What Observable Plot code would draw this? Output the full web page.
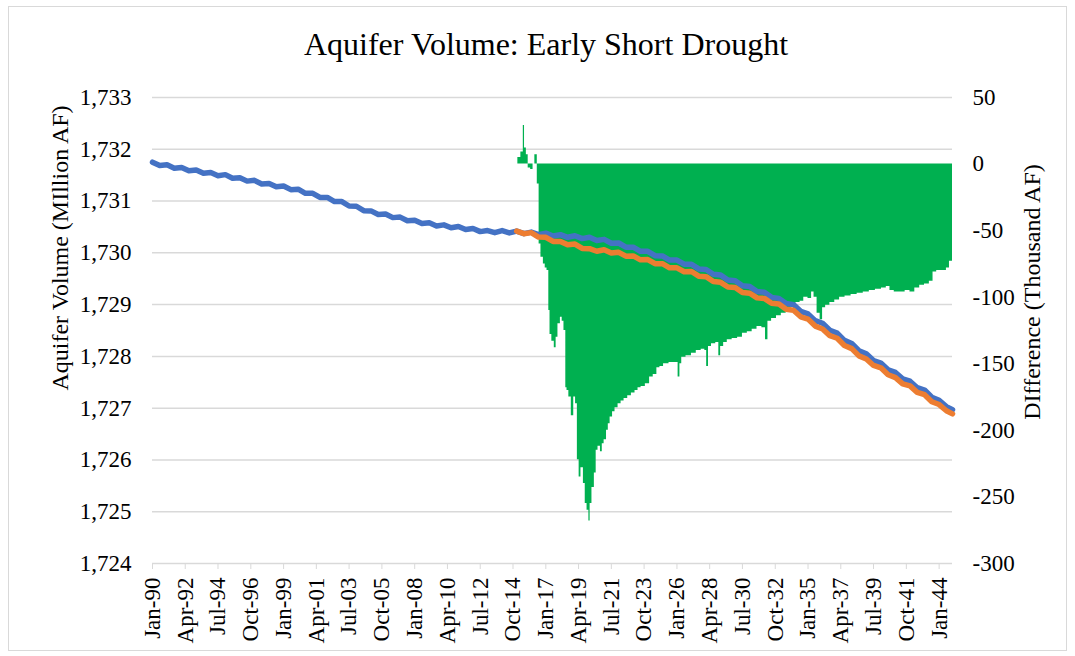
<!DOCTYPE html>
<html>
<head>
<meta charset="utf-8">
<script src="https://cdn.jsdelivr.net/npm/d3@7"></script>
<script src="https://cdn.jsdelivr.net/npm/@observablehq/plot@0.6"></script>
<style>
  html, body { margin: 0; padding: 0; background: #fff; }
  #wrap { position: relative; width: 1075px; height: 656px; overflow: hidden; font-family: "Liberation Serif", "Times New Roman", serif; color: #000; }
  #frame { position: absolute; left: 8px; top: 6px; width: 1059px; height: 645px; border: 1.5px solid #d9d9d9; box-sizing: border-box; }
  #title { position: absolute; left: 0; top: 24px; width: 1092px; text-align: center; font-size: 32px; line-height: 40px; }
  #chart { position: absolute; left: 0; top: 70px; }
  .ytitle { position: absolute; font-size: 24px; line-height: 28px; white-space: nowrap; transform: translate(-50%, -50%) rotate(-90deg); }
  #ltitle { left: 60px; top: 248px; }
  #rtitle { left: 1032px; top: 292px; }
</style>
</head>
<body>
<div id="wrap">
  <div id="frame"></div>
  <div id="title"></div>
  <div id="chart"></div>
  <div id="ltitle" class="ytitle"></div>
  <div id="rtitle" class="ytitle"></div>
</div>
<script>
// ---------- Data ----------
const titleText = "Aquifer Volume: Early Short Drought";
const leftTitle = "Aquifer Volume (MIllion AF)";
const rightTitle = "DIfference (Thousand AF)";

const leftTicks = [1724, 1725, 1726, 1727, 1728, 1729, 1730, 1731, 1732, 1733];
const rightTicks = [50, 0, -50, -100, -150, -200, -250, -300];
const tickDates = ["1990-01","1992-04","1994-07","1996-10","1999-01","2001-04","2003-07","2005-10",
  "2008-01","2010-04","2012-07","2014-10","2017-01","2019-04","2021-07","2023-10","2026-01",
  "2028-04","2030-07","2032-10","2035-01","2037-04","2039-07","2041-10","2044-01"];

// Baseline aquifer volume (million AF), blue
const baseDates = [
  "1990-01","1990-07","1991-01","1991-07","1992-01","1992-07","1993-01","1993-07","1994-01","1994-07",
  "1995-01","1995-07","1996-01","1996-07","1997-01","1997-07","1998-01","1998-07","1999-01","1999-07",
  "2000-01","2000-07","2001-01","2001-07","2002-01","2002-07","2003-01","2003-07","2004-01","2004-07",
  "2005-01","2005-07","2006-01","2006-07","2007-01","2007-07","2008-01","2008-07","2009-01","2009-07",
  "2010-01","2010-07","2011-01","2011-07","2012-01","2012-07","2013-01","2013-07","2014-01","2014-07",
  "2015-01","2015-07","2016-01","2016-07","2017-01","2017-07","2018-01","2018-07","2019-01","2019-07",
  "2020-01","2020-07","2021-01","2021-07","2022-01","2022-07","2023-01","2023-07","2024-01","2024-07",
  "2025-01","2025-07","2026-01","2026-07","2027-01","2027-07","2028-01","2028-07","2029-01","2029-07",
  "2030-01","2030-07","2031-01","2031-07","2032-01","2032-07","2033-01","2033-07","2034-01","2034-07",
  "2035-01","2035-07","2036-01","2036-07","2037-01","2037-07","2038-01","2038-07","2039-01","2039-07",
  "2040-01","2040-07","2041-01","2041-07","2042-01","2042-07","2043-01","2043-07","2044-01","2044-07",
  "2044-12"];
const baseVol = [
  1731.75,1731.685,1731.70,1731.635,1731.65,1731.585,1731.60,1731.535,1731.55,1731.49,
  1731.51,1731.44,1731.45,1731.385,1731.40,1731.33,1731.34,1731.275,1731.29,1731.22,
  1731.23,1731.15,1731.15,1731.07,1731.07,1730.99,1730.99,1730.905,1730.90,1730.815,
  1730.81,1730.74,1730.75,1730.68,1730.69,1730.62,1730.63,1730.565,1730.58,1730.52,
  1730.54,1730.485,1730.51,1730.45,1730.47,1730.41,1730.43,1730.39,1730.43,1730.385,
  1730.42,1730.37,1730.40,1730.35,1730.38,1730.325,1730.35,1730.30,1730.33,1730.275,
  1730.30,1730.24,1730.26,1730.185,1730.19,1730.11,1730.11,1730.03,1730.03,1729.945,
  1729.94,1729.86,1729.86,1729.78,1729.78,1729.69,1729.68,1729.585,1729.57,1729.475,
  1729.46,1729.365,1729.35,1729.255,1729.24,1729.14,1729.12,1729.02,1729.00,1728.87,
  1728.82,1728.69,1728.64,1728.505,1728.45,1728.31,1728.25,1728.11,1728.05,1727.92,
  1727.87,1727.74,1727.69,1727.565,1727.52,1727.395,1727.35,1727.21,1727.15,1727.03,
  1726.97];

// Early short drought scenario volume (million AF), orange
const droughtDates = [
  "2015-01","2015-07","2016-01","2016-07","2017-01","2017-07","2018-01","2018-07","2019-01","2019-07",
  "2020-01","2020-07","2021-01","2021-07","2022-01","2022-07","2023-01","2023-07","2024-01","2024-07",
  "2025-01","2025-07","2026-01","2026-07","2027-01","2027-07","2028-01","2028-07","2029-01","2029-07",
  "2030-01","2030-07","2031-01","2031-07","2032-01","2032-07","2033-01","2033-07","2034-01","2034-07",
  "2035-01","2035-07","2036-01","2036-07","2037-01","2037-07","2038-01","2038-07","2039-01","2039-07",
  "2040-01","2040-07","2041-01","2041-07","2042-01","2042-07","2043-01","2043-07","2044-01","2044-07",
  "2044-12"];
const droughtVol = [
  1730.42,1730.37,1730.39,1730.305,1730.30,1730.22,1730.22,1730.155,1730.17,1730.085,
  1730.08,1730.03,1730.06,1729.995,1730.01,1729.935,1729.94,1729.865,1729.87,1729.79,
  1729.79,1729.71,1729.71,1729.635,1729.64,1729.55,1729.54,1729.445,1729.43,1729.34,
  1729.33,1729.235,1729.22,1729.13,1729.12,1729.025,1729.01,1728.91,1728.89,1728.765,
  1728.72,1728.585,1728.53,1728.40,1728.35,1728.21,1728.15,1728.01,1727.95,1727.825,
  1727.78,1727.645,1727.59,1727.47,1727.43,1727.305,1727.26,1727.125,1727.07,1726.95,
  1726.89];

// Difference (thousand AF), green, right axis
const diffDates = [
  "2015-01","2015-03","2015-06","2015-07","2015-08","2015-10","2015-11",
  "2016-02","2016-03","2016-05","2016-07","2016-08","2016-10","2016-12",
  "2017-01","2017-03","2017-04","2017-05","2017-07","2017-09","2017-10","2017-12",
  "2018-02","2018-03","2018-05","2018-06","2018-07","2018-09","2018-11",
  "2019-01","2019-02","2019-04","2019-05","2019-07","2019-09","2019-10","2019-12",
  "2020-01","2020-02","2020-04","2020-06","2020-07","2020-09","2020-11","2020-12",
  "2021-02","2021-04","2021-05","2021-07","2021-09","2021-11",
  "2022-02","2022-04","2022-07","2022-10",
  "2023-01","2023-04","2023-06","2023-09",
  "2024-01","2024-04","2024-07","2024-10","2024-12",
  "2025-04","2025-09",
  "2026-01","2026-03","2026-04","2026-06","2026-11",
  "2027-03","2027-07","2027-11",
  "2028-01","2028-02","2028-04","2028-07","2028-11","2028-12",
  "2029-02","2029-05","2029-08",
  "2030-01","2030-05","2030-09",
  "2031-01","2031-05","2031-09",
  "2032-01","2032-03","2032-05","2032-09",
  "2033-01","2033-05","2033-09",
  "2034-01","2034-05","2034-08","2034-11",
  "2035-03","2035-05","2035-07","2035-10","2035-12",
  "2036-02","2036-05","2036-09",
  "2037-01","2037-05","2037-10",
  "2038-03","2038-08",
  "2039-01","2039-06","2039-11",
  "2040-04","2040-07","2040-10",
  "2041-02","2041-07","2041-11",
  "2042-03","2042-07","2042-11",
  "2043-03","2043-07","2043-09",
  "2044-01","2044-05","2044-09","2044-10","2044-12"];
const diffVals = [
  0, 5, 9, 29, 12, 7, -3,
  -4, 0, 7, -15, -60, -70, -75,
  -78, -80, -110, -128, -133, -138, -130, -120,
  -115, -118, -125, -168, -170, -175, -189,
  -175, -180, -222, -235, -228, -240, -255, -260,
  -268, -255, -243, -232, -215, -212, -216, -210,
  -207, -200, -195, -190, -186, -183,
  -180, -178, -176, -174,
  -172, -170, -168, -167,
  -165, -160, -158, -153, -152,
  -150, -149,
  -149, -160, -150, -145, -144,
  -142, -140, -139,
  -140, -152, -137, -135, -134, -144,
  -137, -134, -132,
  -131, -130, -127,
  -126, -124, -122,
  -123, -132, -118, -116,
  -114, -112, -110,
  -106, -104, -103, -100,
  -101, -96, -100, -112, -117,
  -108, -106, -104,
  -102, -100, -99,
  -98, -97,
  -96, -95, -94,
  -93, -92, -95,
  -96, -96, -95,
  -96, -93, -91,
  -90, -88, -81,
  -80, -80, -78, -73, -73];

// ---------- Build tables ----------
const toDate = s => new Date(s + "-01T00:00:00Z");
const baseRows = baseDates.map((d, i) => ({date: toDate(d), v: baseVol[i]}));
const droughtRows = droughtDates.map((d, i) => ({date: toDate(d), v: droughtVol[i]}));
const diffRows = diffDates.map((d, i) => ({date: toDate(d), v: diffVals[i]}));

// secondary (right) axis mapped onto the primary y scale
const toLeft = d3.scaleLinear().domain([-300, 50]).range([1724, 1733]);

const font = '"Liberation Serif", "Times New Roman", serif';

const chart = Plot.plot({
  width: 1075,
  height: 586,
  marginTop: 27,
  marginBottom: 93,
  marginLeft: 152,
  marginRight: 123,
  x: {type: "utc", domain: [toDate("1990-01"), toDate("2044-12")]},
  y: {domain: [1724, 1733]},
  style: {fontFamily: font, fontSize: "23px", color: "#000", background: "transparent", overflow: "visible"},
  marks: [
    Plot.gridY(leftTicks, {stroke: "#d9d9d9", strokeOpacity: 1, strokeWidth: 1.5}),
    Plot.areaY(diffRows, {x: "date", y1: () => toLeft(0), y2: d => toLeft(d.v), fill: "#00B050", curve: "step"}),
    Plot.line(baseRows, {x: "date", y: "v", stroke: "#4472C4", strokeWidth: 5.5, strokeLinejoin: "round", strokeLinecap: "round"}),
    Plot.line(droughtRows, {x: "date", y: "v", stroke: "#ED7D31", strokeWidth: 5.5, strokeLinejoin: "round", strokeLinecap: "round"}),
    Plot.axisY(leftTicks, {anchor: "left", tickSize: 0, tickPadding: 21, tickFormat: d3.format(","), fontSize: 23, fill: "#000", label: null}),
    Plot.axisY(rightTicks.map(toLeft), {anchor: "right", tickSize: 0, tickPadding: 20, tickFormat: v => String(Math.round(toLeft.invert(v))), fontSize: 23, fill: "#000", label: null}),
    Plot.axisX(tickDates.map(toDate), {anchor: "bottom", tickSize: 6, tickPadding: 8, tickRotate: -90, tickFormat: d3.utcFormat("%b-%y"), stroke: "#d9d9d9", fill: "#000", fontSize: 23, label: null})
  ]
});
document.getElementById("chart").appendChild(chart);
document.getElementById("title").textContent = titleText;
document.getElementById("ltitle").textContent = leftTitle;
document.getElementById("rtitle").textContent = rightTitle;
</script>
</body>
</html>
